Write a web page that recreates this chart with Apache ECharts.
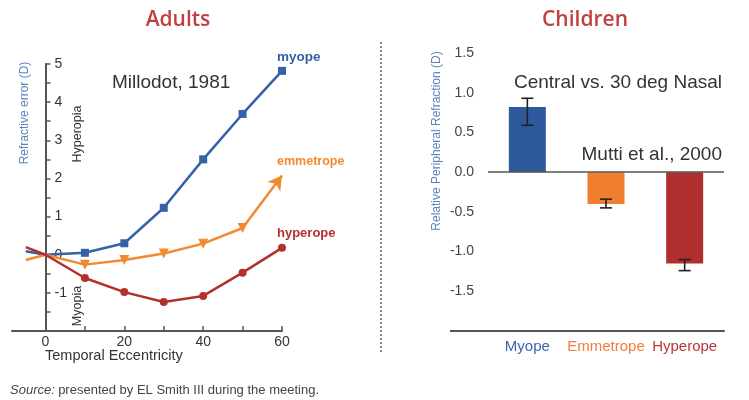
<!DOCTYPE html>
<html>
<head>
<meta charset="utf-8">
<script src="https://cdn.jsdelivr.net/npm/echarts@6/dist/echarts.min.js"></script>
<style>
html,body{margin:0;padding:0;background:#fff;}
#c{width:749px;height:400px;}
</style>
</head>
<body>
<div id="c"></div>
<script>
// ---- Data: Adults (Millodot, 1981) ----
const eccentricity = [-5, 0, 10, 20, 30, 40, 50, 60];
const myopeErr = [0.09, 0, 0.05, 0.3, 1.23, 2.5, 3.69, 4.82];
const emmetropeErr = [-0.14, 0, -0.26, -0.14, 0.03, 0.29, 0.7, 2.08];
const hyperopeErr = [0.2, 0, -0.61, -0.98, -1.24, -1.08, -0.47, 0.18];
const eccTicks = [0, 10, 20, 30, 40, 50, 60];
const eccLabels = [0, 20, 40, 60];
const refTicks = [-1.5, -1, -0.5, 0, 0.5, 1, 1.5, 2, 2.5, 3, 3.5, 4, 4.5, 5];
const refLabels = [-1, 0, 1, 2, 3, 4, 5];

// ---- Data: Children (Mutti et al., 2000) ----
const groups = ['Myope', 'Emmetrope', 'Hyperope'];
const relPeripheral = [0.82, -0.40, -1.15];
const errLow = [0.59, -0.45, -1.24];
const errHigh = [0.93, -0.34, -1.10];
const rprTicks = [-1.5, -1, -0.5, 0, 0.5, 1, 1.5];

const BLUE = '#3462a6', ORANGE = '#f28a30', RED = '#b3302f';
const BAR_COLORS = ['#2c5a9c', '#ef7f2e', '#b12e2f'];
const LABEL_COLORS = ['#3a66ad', '#f0803a', '#b8383a'];
const AXIS = '#555';
const FONT = '"Liberation Sans", Arial, Helvetica, sans-serif';

const X_MIN = -8.5, X_MAX = 60, LEFT_W = 270;

function seriesData(vals, lastOverride) {
  return vals.map((v, i) => {
    const item = { value: [eccentricity[i], v] };
    if (i < 2) item.symbol = 'none';
    if (i === vals.length - 1 && lastOverride) Object.assign(item, lastOverride);
    return item;
  });
}

const chart = echarts.init(document.getElementById('c'), null, { renderer: 'canvas' });

const option = {
  animation: false,
  backgroundColor: '#fff',
  textStyle: { fontFamily: FONT },
  grid: [
    { left: 12, top: 64, width: LEFT_W, height: 267 },
    { left: 488, top: 53, width: 236, height: 278 }
  ],
  xAxis: [
    {
      type: 'value', gridIndex: 0, min: X_MIN, max: X_MAX,
      axisLine: { onZero: false, lineStyle: { color: AXIS, width: 2 } },
      axisTick: { inside: true, length: 5, customValues: eccTicks, lineStyle: { color: AXIS, width: 1.5 } },
      axisLabel: { customValues: eccLabels, color: '#333', fontSize: 14, margin: 4, fontFamily: FONT },
      splitLine: { show: false }
    },
    {
      type: 'category', gridIndex: 1,
      data: groups.map((g, i) => ({ value: g, textStyle: { color: LABEL_COLORS[i] } })),
      axisLine: { onZero: false, lineStyle: { color: AXIS, width: 2 } },
      axisTick: { alignWithLabel: true, length: 5, lineStyle: { color: AXIS, width: 1.5 } },
      axisLabel: { interval: 0, fontSize: 15, margin: 8, fontFamily: FONT, hideOverlap: false },
      splitLine: { show: false }
    }
  ],
  yAxis: [
    {
      type: 'value', gridIndex: 0, min: -2, max: 5, position: 'left',
      // place the y axis at eccentricity 0
      offset: -(0 - X_MIN) / (X_MAX - X_MIN) * LEFT_W,
      axisLine: { onZero: false, lineStyle: { color: AXIS, width: 2 } },
      axisTick: { inside: true, length: 5, customValues: refTicks, lineStyle: { color: AXIS, width: 1.5 } },
      axisLabel: { inside: true, customValues: refLabels, color: '#333', fontSize: 14, margin: 9, fontFamily: FONT },
      splitLine: { show: false }
    },
    {
      type: 'value', gridIndex: 1, min: -2, max: 1.5, offset: 5,
      axisLine: { lineStyle: { color: AXIS, width: 2 } },
      axisTick: { length: 5, customValues: rprTicks, lineStyle: { color: AXIS, width: 1.5 } },
      axisLabel: { customValues: rprTicks, color: '#444', fontSize: 14, margin: 9, fontFamily: FONT,
                   formatter: v => v.toFixed(1) },
      splitLine: { show: false }
    }
  ],
  series: [
    {
      name: 'myope', type: 'line', xAxisIndex: 0, yAxisIndex: 0,
      data: seriesData(myopeErr),
      symbol: 'rect', symbolSize: 8,
      lineStyle: { color: BLUE, width: 2.5 }, itemStyle: { color: BLUE }
    },
    {
      name: 'emmetrope', type: 'line', xAxisIndex: 0, yAxisIndex: 0,
      data: seriesData(emmetropeErr, { symbol: 'arrow', symbolSize: [12, 14], symbolRotate: -36 }),
      symbol: 'triangle', symbolRotate: 180, symbolSize: 10,
      lineStyle: { color: ORANGE, width: 2.5 }, itemStyle: { color: ORANGE }
    },
    {
      name: 'hyperope', type: 'line', xAxisIndex: 0, yAxisIndex: 0,
      data: seriesData(hyperopeErr),
      symbol: 'circle', symbolSize: 8,
      lineStyle: { color: RED, width: 2.5 }, itemStyle: { color: RED }
    },
    {
      name: 'Relative Peripheral Refraction', type: 'bar', xAxisIndex: 1, yAxisIndex: 1,
      barWidth: 37,
      data: relPeripheral.map((v, i) => ({ value: v, itemStyle: { color: BAR_COLORS[i] } })),
      markLine: {
        silent: true, symbol: 'none', label: { show: false },
        lineStyle: { color: AXIS, width: 1.5, type: 'solid' },
        data: [{ yAxis: 0 }]
      }
    },
    {
      name: 'error', type: 'custom', xAxisIndex: 1, yAxisIndex: 1,
      data: groups.map((g, i) => [i, errLow[i], errHigh[i]]),
      renderItem: function (params, api) {
        const lo = api.coord([api.value(0), api.value(1)]);
        const hi = api.coord([api.value(0), api.value(2)]);
        const hw = 6;
        const style = { stroke: '#222', lineWidth: 1.6 };
        return {
          type: 'group',
          children: [
            { type: 'line', shape: { x1: lo[0], y1: lo[1], x2: hi[0], y2: hi[1] }, style },
            { type: 'line', shape: { x1: lo[0] - hw, y1: lo[1], x2: lo[0] + hw, y2: lo[1] }, style },
            { type: 'line', shape: { x1: hi[0] - hw, y1: hi[1], x2: hi[0] + hw, y2: hi[1] }, style }
          ]
        };
      },
      z: 5
    }
  ],
  graphic: [
    { type: 'text', x: 178, y: 20, style: { text: 'Adults', fill: '#c0403f', font: '600 21px "Open Sans", sans-serif', textAlign: 'center', textVerticalAlign: 'middle' } },
    { type: 'text', x: 585, y: 20, style: { text: 'Children', fill: '#c0403f', font: '600 21px "Open Sans", sans-serif', textAlign: 'center', textVerticalAlign: 'middle' } },
    { type: 'text', x: 112, y: 83, style: { text: 'Millodot, 1981', fill: '#333', font: '19px ' + FONT, textAlign: 'left', textVerticalAlign: 'middle' } },
    { type: 'text', x: 722, y: 83, style: { text: 'Central vs. 30 deg Nasal', fill: '#333', font: '19px ' + FONT, textAlign: 'right', textVerticalAlign: 'middle' } },
    { type: 'text', x: 722, y: 155, style: { text: 'Mutti et al., 2000', fill: '#333', font: '19px ' + FONT, textAlign: 'right', textVerticalAlign: 'middle' } },
    { type: 'text', x: 25, y: 113, rotation: Math.PI / 2, style: { text: 'Refractive error (D)', fill: '#5a82c0', font: '12px ' + FONT, textAlign: 'center', textVerticalAlign: 'middle' } },
    { type: 'text', x: 437, y: 141, rotation: Math.PI / 2, style: { text: 'Relative Peripheral Refraction (D)', fill: '#5a82c0', font: '12px ' + FONT, textAlign: 'center', textVerticalAlign: 'middle' } },
    { type: 'text', x: 78, y: 134, rotation: Math.PI / 2, style: { text: 'Hyperopia', fill: '#333', font: '12.5px ' + FONT, textAlign: 'center', textVerticalAlign: 'middle' } },
    { type: 'text', x: 78, y: 306, rotation: Math.PI / 2, style: { text: 'Myopia', fill: '#333', font: '12.5px ' + FONT, textAlign: 'center', textVerticalAlign: 'middle' } },
    { type: 'text', x: 45, y: 356, style: { text: 'Temporal Eccentricity', fill: '#333', font: '14.5px ' + FONT, textAlign: 'left', textVerticalAlign: 'middle' } },
    { type: 'text', x: 277, y: 57, style: { text: 'myope', fill: BLUE, font: 'bold 13.5px ' + FONT, textAlign: 'left', textVerticalAlign: 'middle' } },
    { type: 'text', x: 277, y: 162, style: { text: 'emmetrope', fill: ORANGE, font: 'bold 12.5px ' + FONT, textAlign: 'left', textVerticalAlign: 'middle' } },
    { type: 'text', x: 277, y: 233, style: { text: 'hyperope', fill: RED, font: 'bold 13px ' + FONT, textAlign: 'left', textVerticalAlign: 'middle' } },
    { type: 'line', shape: { x1: 450, y1: 331, x2: 489, y2: 331 }, style: { stroke: AXIS, lineWidth: 2 } },
    { type: 'line', shape: { x1: 381, y1: 42, x2: 381, y2: 353 }, style: { stroke: '#888', lineWidth: 2, lineDash: [2, 2] } },
    { type: 'text', x: 10, y: 390, style: { rich: { i: { fontStyle: 'italic', fontSize: 13, fill: '#444', fontFamily: FONT }, n: { fontSize: 13, fill: '#444', fontFamily: FONT } }, text: '{i|Source:} {n|presented by EL Smith III during the meeting.}', textAlign: 'left', textVerticalAlign: 'middle' } }
  ]
};
chart.setOption(option);
</script>
</body>
</html>
